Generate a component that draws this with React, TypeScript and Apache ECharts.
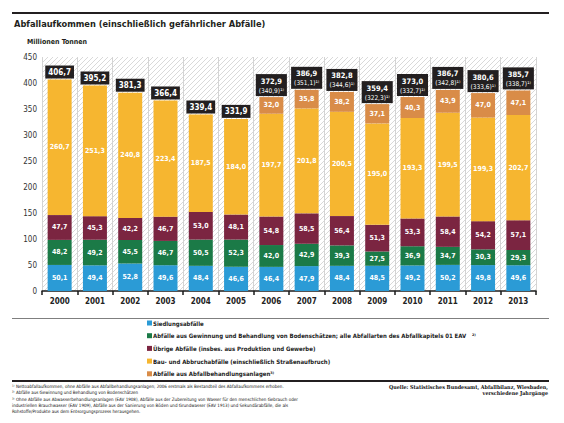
import React, { useEffect, useRef } from "react";
import * as echarts from "echarts";

const years = ["2000","2001","2002","2003","2004","2005","2006","2007","2008","2009","2010","2011","2012","2013"];
const siedlung = [50.1, 49.4, 52.8, 49.6, 48.4, 46.6, 46.4, 47.9, 48.4, 48.5, 49.2, 50.2, 49.8, 49.6];
const gewinnung = [48.2, 49.2, 45.5, 46.7, 50.5, 52.3, 42.0, 42.9, 39.3, 27.5, 36.9, 34.7, 30.3, 29.3];
const uebrige = [47.7, 45.3, 42.2, 46.7, 53.0, 48.1, 54.8, 58.5, 56.4, 51.3, 53.3, 58.4, 54.2, 57.1];
const bau = [260.7, 251.3, 240.8, 223.4, 187.5, 184.0, 197.7, 201.8, 200.5, 195.0, 193.3, 199.5, 199.3, 202.7];
const behandlung: (number | null)[] = [null, null, null, null, null, null, 32.0, 35.8, 38.2, 37.1, 40.3, 43.9, 47.0, 47.1];
const totals = [406.7, 395.2, 381.3, 366.4, 339.4, 331.9, 372.9, 386.9, 382.8, 359.4, 373.0, 386.7, 380.6, 385.7];
const netTotals: (number | null)[] = [null, null, null, null, null, null, 340.9, 351.1, 344.6, 322.3, 332.7, 342.8, 333.6, 338.7];
const yTicks = [0, 50, 100, 150, 200, 250, 300, 350, 400, 450];

const seriesNames = [
  "Siedlungsabfälle",
  "Abfälle aus Gewinnung und Behandlung von Bodenschätzen; alle Abfallarten des Abfallkapitels 01 EAV",
  "Übrige Abfälle (insbes. aus Produktion und Gewerbe)",
  "Bau- und Abbruchabfälle (einschließlich Straßenaufbruch)",
  "Abfälle aus Abfallbehandlungsanlagen",
];
const colors = ["#2b9bd6", "#1b7a47", "#7b2541", "#f6b630", "#d98c48"];

const FONT = "'DejaVu Sans Condensed', 'DejaVu Sans', sans-serif";
const SERIF = "'DejaVu Serif Condensed', 'DejaVu Serif', 'Liberation Serif', serif";
const fmt = (v: number) => v.toFixed(1).replace(".", ",");

function makeHatch(): HTMLCanvasElement {
  const c = document.createElement("canvas");
  c.width = 5;
  c.height = 5;
  const ctx = c.getContext("2d")!;
  ctx.fillStyle = "#ffffff";
  ctx.fillRect(0, 0, 5, 5);
  ctx.strokeStyle = "#cfcfcf";
  ctx.lineWidth = 0.8;
  ctx.beginPath();
  ctx.moveTo(0, 5);
  ctx.lineTo(5, 0);
  ctx.moveTo(-1, 1);
  ctx.lineTo(1, -1);
  ctx.moveTo(4, 6);
  ctx.lineTo(6, 4);
  ctx.stroke();
  return c;
}

export default function App() {
  const ref = useRef<HTMLDivElement>(null);
  useEffect(() => {
    if (!ref.current) return;
    const chart = echarts.init(ref.current, null, { renderer: "svg" });
    const segLabel = {
      show: true,
      position: "inside" as const,
      color: "#ffffff",
      fontSize: 7,
      fontWeight: "bold" as const,
      fontFamily: FONT,
      formatter: (p: any) => (p.value == null ? "" : fmt(p.value)),
    };
    const dataSets = [siedlung, gewinnung, uebrige, bau, behandlung];
    const series: any[] = dataSets.map((d, i) => ({
      name: seriesNames[i],
      type: "bar",
      stack: "total",
      barWidth: 24,
      data: d,
      itemStyle: { color: colors[i] },
      label: segLabel,
    }));
    series.push({
      name: "Gesamt",
      type: "bar",
      stack: "total",
      barWidth: 24,
      data: totals.map(() => 0),
      itemStyle: { color: "transparent" },
      label: {
        show: true,
        position: "top",
        distance: 1,
        backgroundColor: "#231f20",
        padding: [2, 3, 1, 3],
        color: "#ffffff",
        fontFamily: FONT,
        formatter: (p: any) => {
          const i = p.dataIndex;
          const n = netTotals[i];
          return n == null ? `{a|${fmt(totals[i])}}` : `{c|${fmt(totals[i])}}\n{b|(${fmt(n)})¹⁾}`;
        },
        rich: {
          a: { fontSize: 8, fontWeight: "bold", color: "#ffffff", fontFamily: FONT, lineHeight: 10, align: "center" },
          c: { fontSize: 7.5, fontWeight: "bold", color: "#ffffff", fontFamily: FONT, lineHeight: 10, align: "center" },
          b: { fontSize: 6.5, color: "#ffffff", fontFamily: FONT, lineHeight: 9, align: "center" },
        },
      },
    });

    const noteStyle = { fontSize: 4.5, fill: "#111", fontFamily: FONT };
    const srcStyle = { fontSize: 5.4, fill: "#111", fontFamily: SERIF, fontWeight: "bold" as const };

    chart.setOption({
      animation: false,
      textStyle: { fontFamily: FONT },
      grid: {
        left: 42,
        right: 28,
        top: 57,
        bottom: 132,
        show: true,
        borderWidth: 0,
        backgroundColor: { image: makeHatch(), repeat: "repeat" },
      },
      legend: {
        show: true,
        orient: "vertical",
        left: 147,
        top: 319,
        padding: 0,
        itemWidth: 5,
        itemHeight: 5,
        itemGap: 4.7,
        icon: "rect",
        data: seriesNames,
        selectedMode: false,
        textStyle: { fontSize: 6, fontWeight: "bold", color: "#222", fontFamily: FONT, lineHeight: 8, padding: [0, 0, 0, -4] },
        formatter: (name: string) => {
          if (name === seriesNames[1]) return name + "   ²⁾";
          if (name === seriesNames[4]) return name + "³⁾";
          return name;
        },
      },
      xAxis: {
        type: "category",
        data: years,
        axisLine: { show: true, lineStyle: { color: "#1a1a1a", width: 1.5 } },
        axisTick: { show: true, length: 4, lineStyle: { color: "#1a1a1a", width: 1.5 } },
        axisLabel: { fontSize: 8, fontWeight: "bold", color: "#222", margin: 6, fontFamily: FONT },
        splitLine: { show: true, lineStyle: { color: "#d4d4d4", width: 1 } },
      },
      yAxis: {
        type: "value",
        min: yTicks[0],
        max: yTicks[yTicks.length - 1],
        interval: 50,
        axisLine: { show: false },
        axisTick: { show: false },
        splitLine: { show: false },
        axisLabel: { fontSize: 8, color: "#333", margin: 5, fontFamily: FONT },
      },
      graphic: [
        { type: "rect", shape: { x: 12, y: 12, width: 537, height: 2 }, style: { fill: "#231f20" } },
        {
          type: "text", left: 14, top: 19,
          style: { text: "Abfallaufkommen (einschließlich gefährlicher Abfälle)", fontSize: 9.2, fontWeight: "bold", fill: "#231f20", fontFamily: FONT },
        },
        {
          type: "text", left: 27, top: 38,
          style: { text: "Millionen Tonnen", fontSize: 7, fontWeight: "bold", fill: "#231f20", fontFamily: FONT },
        },
        { type: "rect", shape: { x: 12, y: 318, width: 537, height: 0.8 }, style: { fill: "#555" } },
        { type: "rect", shape: { x: 12, y: 380, width: 537, height: 2 }, style: { fill: "#231f20" } },
        { type: "text", x: 12, y: 384, style: { ...noteStyle, text: "¹⁾ Nettoabfallaufkommen, ohne Abfälle aus Abfallbehandlungsanlagen; 2006 erstmals als Bestandteil des Abfallaufkommens erhoben." } },
        { type: "text", x: 12, y: 390.3, style: { ...noteStyle, text: "²⁾ Abfälle aus Gewinnung und Behandlung von Bodenschätzen" } },
        { type: "text", x: 12, y: 396.6, style: { ...noteStyle, text: "³⁾ Ohne Abfälle aus Abwasserbehandlungsanlagen (EAV 1908), Abfälle aus der Zubereitung von Wasser für den menschlichen Gebrauch oder" } },
        { type: "text", x: 12, y: 402.9, style: { ...noteStyle, text: "industriellen Brauchwasser (EAV 1909), Abfälle aus der Sanierung von Böden und Grundwasser (EAV 1913) und Sekundärabfälle, die als" } },
        { type: "text", x: 12, y: 409.2, style: { ...noteStyle, text: "Rohstoffe/Produkte aus dem Entsorgungsprozess herausgehen." } },
        { type: "text", x: 548, y: 384, style: { ...srcStyle, text: "Quelle: Statistisches Bundesamt, Abfallbilanz, Wiesbaden,", align: "right" } },
        { type: "text", x: 548, y: 390.5, style: { ...srcStyle, text: "verschiedene Jahrgänge", align: "right" } },
      ],
      series,
    });
    return () => chart.dispose();
  }, []);
  return <div ref={ref} style={{ width: 564, height: 423, position: "absolute", left: 0, top: 0 }} />;
}
